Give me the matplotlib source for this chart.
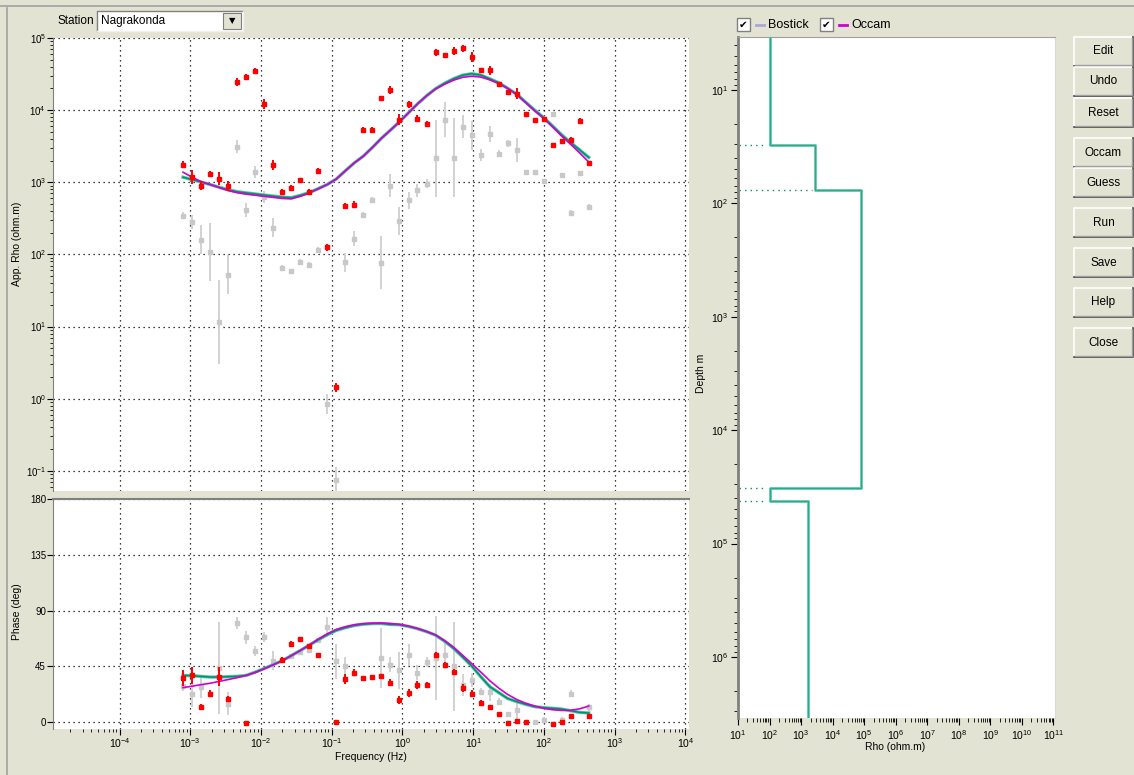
import numpy as np
import matplotlib.pyplot as plt
from matplotlib.patches import Rectangle
from matplotlib.ticker import LogLocator, NullFormatter, FixedLocator

W, H = 1134, 775
BG = '#e3e3d3'

plt.rcParams['font.family'] = ['Liberation Sans', 'DejaVu Sans']
plt.rcParams['mathtext.fontset'] = 'custom'
plt.rcParams['mathtext.rm'] = 'Liberation Sans'
plt.rcParams['mathtext.it'] = 'Liberation Sans:italic'

# sounding frequencies (Hz)
freq = [0.00079, 0.00106, 0.00143, 0.00191, 0.00257, 0.00344, 0.00462, 0.00619,
        0.0083, 0.0111, 0.0149, 0.0200, 0.0269, 0.0360, 0.0483, 0.0647, 0.0868,
        0.116, 0.156, 0.209, 0.281, 0.376, 0.504, 0.676, 0.907, 1.22, 1.63, 2.19,
        2.93, 3.94, 5.27, 7.07, 9.48, 12.7, 17.1, 22.9, 30.6, 41.1, 55.1, 73.9,
        99.1, 133, 178, 239, 321, 430]

# apparent resistivity, red (xy) and grey (yx), errors in decades
rho_xy = [1760, 1190, 900, 1320, 1125, 900, 24500, 29000, 34800, 12000, 1760, 726,
          834, 1070, 726, 1420, 126, 1.44, 465, 490, 5370, 5370, 14500, 19000, 7400,
          12000, 7600, 6500, 63000, 57500, 66000, 72000, 54000, 36000, 35500, 23000,
          17800, 17000, 8900, 7200, 7600, 3300, 3700, 3900, 7100, 1860]
rho_xy_err = [0.05, 0.1, 0.06, 0.04, 0.09, 0.07, 0.05, 0.04, 0.04, 0.07, 0.07, 0.04,
              0.04, 0.03, 0.04, 0.04, 0.05, 0.06, 0.04, 0.05, 0.03, 0.03, 0.04, 0.05,
              0.08, 0.05, 0.05, 0.04, 0.05, 0.03, 0.05, 0.05, 0.07, 0.03, 0.06, 0.03,
              0.03, 0.08, 0.03, 0.03, 0.03, 0.03, 0.03, 0.03, 0.04, 0.03]
rho_yx = [345, 280, 160, 107, 11.5, 52, 3100, 415, 1380, 630, 235, 65, 59, 78, 72,
          115, 0.84, 0.074, 78, 165, 355, 575, 77, 890, 290, 560, 775, 955, 2140,
          7400, 2190, 5900, 4470, 2400, 4700, 2500, 3470, 2800, 1410, 1410, 1050,
          8700, 1260, 380, 1350, 460]
rho_yx_err = [0.05, 0.1, 0.2, 0.4, 0.58, 0.27, 0.09, 0.1, 0.08, 0.08, 0.13, 0.04,
              0.03, 0.04, 0.04, 0.04, 0.14, 0.18, 0.13, 0.1, 0.04, 0.04, 0.37, 0.16,
              0.19, 0.12, 0.09, 0.06, 0.53, 0.24, 0.55, 0.16, 0.2, 0.08, 0.11, 0.05,
              0.05, 0.17, 0.02, 0.02, 0.02, 0.02, 0.02, 0.03, 0.02, 0.03]

# phase (deg)
nan = np.nan
phs_xy = [35.4, 37.8, 12, 23.1, 36.7, 18.4, nan, -0.5, nan, nan, nan, 50.5, 63.3, 67,
          61.2, 54, nan, 0, 34.6, 39.9, 35.4, 36.4, 37.2, 32, 17.8, 23.4, 30, 30, 54,
          45.8, 40.7, 27.4, 23.1, 15.2, 12, 6.4, -0.8, 1.3, 0, nan, nan, -1.3, 0, 5.3,
          nan, 5.3]
phs_xy_err = [6.5, 7, 2.5, 2.5, 7.5, 2.5, 0, 1, 0, 0, 0, 2, 2.5, 2, 2, 2, 0, 1, 4, 3,
              2, 2, 2, 3, 3, 3, 3, 2.5, 2.5, 2.5, 2.5, 3, 3, 2.5, 2, 1.5, 1, 1, 1, 0,
              0, 1, 1, 1.5, 0, 1.5]
phs_yx = [29, 22.6, 28.5, nan, 44, 15, 79.8, 68.4, 57.7, 68.4, 49.7, nan, 53.2, 56.7,
          58, 66, 76.6, 49.2, 45.2, nan, nan, nan, 51.9, 46.5, 42, 54, 40, 48.7, 52,
          54, 45, 30, 34, 24.7, 24, 16.5, 6.4, 10, nan, 0, 1.9, nan, 1.9, 23.1, nan, 12]
phs_yx_err = [4, 10, 9, 0, 37, 9, 5, 5, 4, 4, 8, 0, 2, 2, 2, 2, 8, 14, 7, 0, 0, 0, 24,
              6, 15, 9, 6, 4, 34, 11, 36, 9, 6, 3, 7, 3, 2, 8, 0, 2, 2, 0, 2, 3, 0, 3]

# model responses
layer_rho_resp = [1175, 1090, 1005, 929, 855, 787, 740, 713, 689, 665, 644, 623, 611,
                  659, 721, 818, 933, 1110, 1445, 1860, 2310, 3040, 4070, 5280, 6890,
                  9200, 12200, 15800, 19800, 23600, 27200, 30500, 32000, 30700, 27200,
                  24000, 20100, 16700, 12900, 9980, 7890, 6000, 4540, 3540, 2800, 2210]
occam_rho_resp = [1380, 1175, 1020, 933, 841, 767, 716, 684, 661, 638, 617, 596, 589,
                  638, 708, 813, 933, 1110, 1445, 1860, 2310, 3040, 4070, 5280, 6890,
                  9200, 12200, 15800, 19600, 22900, 26000, 28500, 29500, 28800, 26300,
                  23400, 20000, 16400, 12700, 9770, 7670, 5820, 4370, 3350, 2540, 1905]
layer_phs_resp = [37.7, 37.5, 36.9, 36.4, 36.4, 36.7, 37.0, 37.7, 40.4, 43.3, 46.4,
                  49.6, 53.7, 57.8, 62.1, 66.5, 70.6, 74.0, 76.2, 78.0, 79.0, 79.5,
                  79.6, 78.8, 78.6, 77.2, 75.4, 73.0, 70.2, 65.3, 59.6, 52.6, 45.4,
                  36.9, 28.7, 23.9, 19.1, 16.6, 14.4, 12.5, 11.7, 11.2, 10.6, 9.2, 7.9, 7.4]
occam_phs_resp = [27.9, 29.0, 30.3, 31.4, 32.9, 34.4, 35.9, 37.8, 40.0, 43.0, 46.2,
                  49.6, 53.7, 57.9, 62.4, 67.0, 71.3, 74.8, 77.0, 78.6, 79.5, 79.9,
                  80.0, 79.6, 78.9, 77.5, 75.6, 73.2, 70.4, 65.8, 60.5, 54.0, 47.4,
                  40.6, 33.5, 27.5, 22.4, 18.3, 15.3, 13.0, 11.2, 10.0, 9.5, 9.6, 10.8, 13.0]

# layered model
layer_rho = [100, 2860, 78500, 100, 1600]
layer_top = [3.43, 31, 77, 32400, 41900]
layer_bot = [31, 77, 32400, 41900, 3.45e6]

buttons = ['Edit', 'Undo', 'Reset', 'Occam', 'Guess', 'Run', 'Save', 'Help', 'Close']
button_top = [37, 67, 98, 138, 168, 208, 248, 288, 328]

freq_decades = [1e-4, 1e-3, 1e-2, 1e-1, 1e0, 1e1, 1e2, 1e3, 1e4]
rho_decades = [1e-1, 1e0, 1e1, 1e2, 1e3, 1e4, 1e5]
phase_ticks = [0, 45, 90, 135, 180]
model_rho_decades = [1e1, 1e2, 1e3, 1e4, 1e5, 1e6, 1e7, 1e8, 1e9, 1e10, 1e11]
depth_decades = [1e1, 1e2, 1e3, 1e4, 1e5, 1e6]

GREEN = '#00906c'
TEAL = '#5cc4aa'
MAGENTA = '#d000d0'
RED = '#ff0000'
GREY = '#c8c8c8'


def box(l, t, r, b):
    return [l / W, 1 - b / H, (r - l) / W, (b - t) / H]


def log_err(vals, errs):
    v = np.array(vals, dtype=float)
    e = np.array(errs, dtype=float)
    return [v - v * 10 ** -e, v * 10 ** e - v]


def minor_log(axis):
    axis.set_minor_locator(LogLocator(base=10, subs=np.arange(2, 10), numticks=30))
    axis.set_minor_formatter(NullFormatter())


fig = plt.figure(figsize=(W / 100, H / 100), dpi=100, facecolor=BG)

# window chrome in pixel coordinates
bg = fig.add_axes([0, 0, 1, 1])
bg.set_xlim(0, W)
bg.set_ylim(H, 0)
bg.axis('off')
bg.plot([0, W], [6, 6], color='#a0a0a0', lw=1.2)
bg.plot([6.5, 6.5], [8, H], color='#a0a0a0', lw=1.2)

bg.text(57, 21, 'Station', fontsize=8.5, va='center')
bg.add_patch(Rectangle((97, 11), 146, 20, facecolor='white', edgecolor='none'))
bg.plot([97, 97, 243], [31, 11, 11], color='#808080', lw=1)
bg.plot([97, 243, 243], [31, 31, 11], color='#f0f0f0', lw=1)
bg.add_patch(Rectangle((223, 13), 18, 16, facecolor=BG, edgecolor='#808080', lw=0.8))
bg.text(232, 21, '\u25bc', fontsize=6, ha='center', va='center', family='DejaVu Sans')
bg.text(101, 21, 'Nagrakonda', fontsize=8.5, va='center')

for cx, col, name in [(737, '#a8a8d8', 'Bostick'), (820, MAGENTA, 'Occam')]:
    bg.add_patch(Rectangle((cx, 18), 13, 13, facecolor='white', edgecolor='#808080', lw=1))
    bg.text(cx + 6.5, 24.5, '\u2714', fontsize=7.5, ha='center', va='center',
            family='DejaVu Sans')
    bg.plot([cx + 19, cx + 27], [25, 25], color=col, lw=2)
    bg.text(cx + 31, 25, name, fontsize=9, va='center')

for name, top in zip(buttons, button_top):
    bg.add_patch(Rectangle((1074, top), 59, 29, facecolor=BG, edgecolor='none'))
    bg.plot([1074, 1074, 1133], [top + 29, top, top], color='white', lw=1.2)
    bg.plot([1074, 1133, 1133], [top + 29, top + 29, top], color='#404040', lw=1.2)
    bg.plot([1075, 1132, 1132], [top + 28, top + 28, top + 1], color='#a0a0a0', lw=1)
    bg.text(1103.5, top + 14.5, name, fontsize=8.5, ha='center', va='center')

bg.text(17, 244, 'App. Rho (ohm.m)', rotation=90, fontsize=7.5, ha='center', va='center')
bg.text(17, 612, 'Phase (deg)', rotation=90, fontsize=7.5, ha='center', va='center')
bg.text(371, 757, 'Frequency (Hz)', fontsize=7.5, ha='center', va='center')
bg.text(701, 373, 'Depth m', rotation=90, fontsize=7.5, ha='center', va='center')
bg.text(895, 747, 'Rho (ohm.m)', fontsize=7.5, ha='center', va='center')

grid_kw = dict(color='black', linestyle=(0, (1, 3)), linewidth=0.9)
xlo, xhi = 10 ** -4.94, 10 ** 4.05

# apparent resistivity panel
ax = fig.add_axes(box(53, 38, 689, 491))
ax.set_xscale('log')
ax.set_yscale('log')
ax.set_xlim(xlo, xhi)
ax.set_ylim(10 ** -1.28, 1e5)
ax.errorbar(freq, rho_yx, yerr=log_err(rho_yx, rho_yx_err), fmt='s', ms=3.5,
            color=GREY, ecolor='#d2d2d2', elinewidth=1.4, capsize=0, zorder=2)
ax.plot(freq, layer_rho_resp, color=TEAL, lw=2.4, zorder=3)
ax.plot(freq, layer_rho_resp, color=GREEN, lw=1.1, zorder=4)
ax.plot(freq, occam_rho_resp, color=MAGENTA, lw=1.2, zorder=4)
ax.errorbar(freq, rho_xy, yerr=log_err(rho_xy, rho_xy_err), fmt='s', ms=3.5,
            color=RED, ecolor=RED, elinewidth=1.4, capsize=0, zorder=5)
ax.xaxis.set_major_locator(FixedLocator(freq_decades))
ax.yaxis.set_major_locator(FixedLocator(rho_decades))
minor_log(ax.yaxis)
ax.grid(True, which='major', **grid_kw)
ax.tick_params(axis='x', which='both', length=0, labelbottom=False)
ax.tick_params(axis='y', which='major', direction='out', length=4, labelsize=7, pad=1)
ax.tick_params(axis='y', which='minor', direction='out', length=2)
for s in ['top', 'right', 'bottom']:
    ax.spines[s].set_visible(False)
ax.spines['left'].set_color('#808080')

# phase panel
ap = fig.add_axes(box(53, 499, 689, 729))
ap.set_xscale('log')
ap.set_xlim(xlo, xhi)
ap.set_ylim(-5.5, 180)
ap.errorbar(freq, phs_yx, yerr=phs_yx_err, fmt='s', ms=3.5, color=GREY,
            ecolor='#d2d2d2', elinewidth=1.4, capsize=0, zorder=2)
ap.plot(freq, layer_phs_resp, color=TEAL, lw=2.4, zorder=3)
ap.plot(freq, layer_phs_resp, color=GREEN, lw=1.1, zorder=4)
ap.plot(freq, occam_phs_resp, color=MAGENTA, lw=1.2, zorder=4)
ap.errorbar(freq, phs_xy, yerr=phs_xy_err, fmt='s', ms=3.5, color=RED, ecolor=RED,
            elinewidth=1.4, capsize=0, zorder=5)
ap.xaxis.set_major_locator(FixedLocator(freq_decades))
minor_log(ap.xaxis)
ap.yaxis.set_major_locator(FixedLocator(phase_ticks))
ap.grid(True, which='major', **grid_kw)
ap.tick_params(axis='x', which='major', direction='out', length=4, labelsize=7.5, pad=1)
ap.tick_params(axis='x', which='minor', direction='out', length=2.5)
ap.tick_params(axis='y', direction='out', length=4, labelsize=7, pad=1)
for s in ['right', 'bottom']:
    ap.spines[s].set_visible(False)
ap.spines['left'].set_color('#808080')
ap.spines['top'].set_color('#808080')
ap.spines['top'].set_linewidth(1.5)

# layered model panel
ad = fig.add_axes(box(738, 37, 1055, 718))
ad.set_xscale('log')
ad.set_yscale('log')
ad.set_xlim(10, 10 ** 11.05)
ad.set_ylim(3.45e6, 3.43)
xs, ys = [], []
for r, t, b in zip(layer_rho, layer_top, layer_bot):
    xs += [r, r]
    ys += [t, b]
ad.plot(xs, ys, color=TEAL, lw=2.0, zorder=3)
ad.plot(xs, ys, color=GREEN, lw=0.6, alpha=0.6, zorder=4)
for i in range(len(layer_rho) - 1):
    d = layer_bot[i]
    edge = min(layer_rho[i], layer_rho[i + 1]) * 0.75
    ad.plot([11, edge], [d, d], color=GREEN, lw=1, linestyle=(0, (1, 3)))
ad.xaxis.set_major_locator(FixedLocator(model_rho_decades))
minor_log(ad.xaxis)
ad.yaxis.set_major_locator(FixedLocator(depth_decades))
minor_log(ad.yaxis)
ad.tick_params(which='major', direction='out', length=5, labelsize=7.5, pad=2)
ad.tick_params(which='minor', direction='out', length=3)
ad.spines['bottom'].set_visible(False)
ad.spines['left'].set_color('#808080')
ad.spines['left'].set_linewidth(2)
ad.spines['top'].set_color('#a0a0a0')
ad.spines['right'].set_color('#d8d8d8')

fig.savefig('out.png', dpi=100, facecolor=BG)
